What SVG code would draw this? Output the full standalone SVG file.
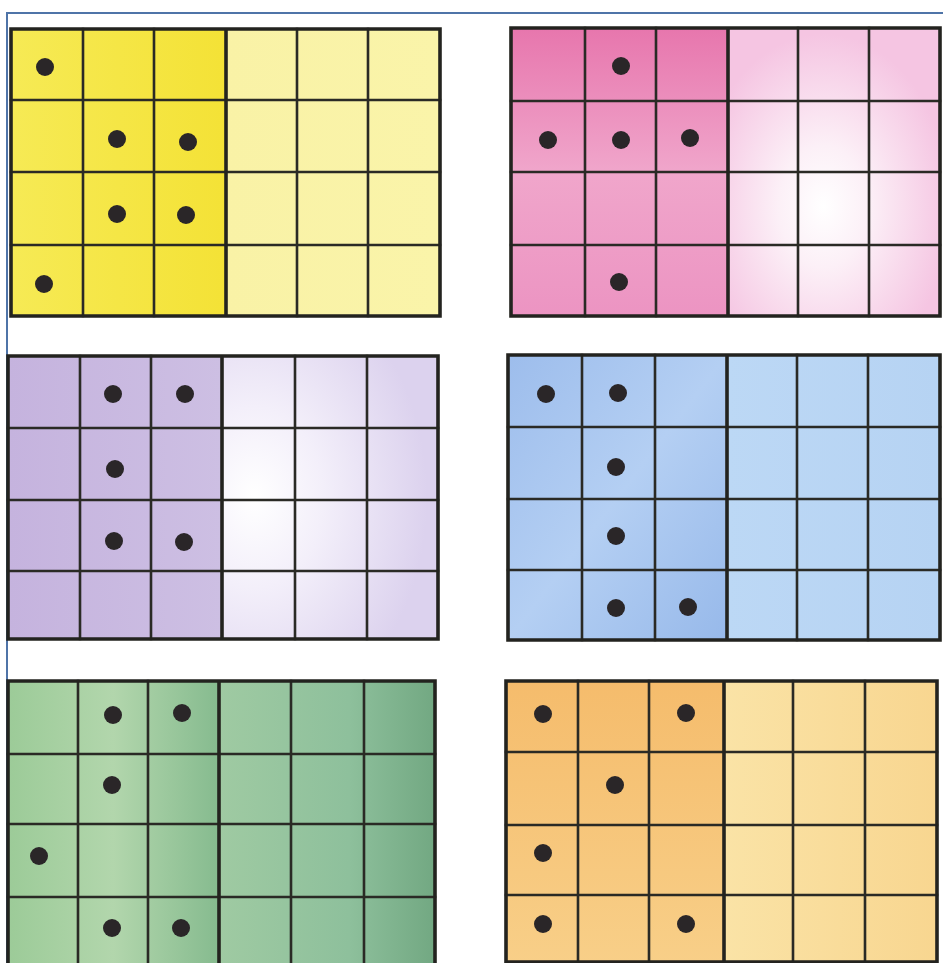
<svg xmlns="http://www.w3.org/2000/svg" width="943" height="963" viewBox="0 0 943 963">
<style>
.g{fill:none;stroke:#2a2a25;stroke-width:2.6;stroke-linecap:square}
.m{fill:none;stroke:#23231f;stroke-width:3.6}
.d{fill:#2a2628}
.frame{fill:none;stroke:#4f74a8;stroke-width:2}
</style>
<defs>
<linearGradient id="yl" x1="0" y1="0" x2="1" y2="0"><stop offset="0" stop-color="#f6ea55"/><stop offset="1" stop-color="#f4e236"/></linearGradient>
<linearGradient id="yr" x1="0" y1="0" x2="1" y2="0"><stop offset="0" stop-color="#f9f2a6"/><stop offset="1" stop-color="#faf4a9"/></linearGradient>
<linearGradient id="pl" x1="0" y1="0" x2="0" y2="1"><stop offset="0" stop-color="#e776ad"/><stop offset="0.5" stop-color="#f0a6cb"/><stop offset="1" stop-color="#ec94c2"/></linearGradient>
<radialGradient id="pr" cx="0.45" cy="0.62" r="0.6"><stop offset="0" stop-color="#ffffff"/><stop offset="0.35" stop-color="#fcf0f7"/><stop offset="1" stop-color="#f5c5e2"/></radialGradient>
<linearGradient id="ul" x1="0" y1="0" x2="1" y2="0"><stop offset="0" stop-color="#c5b3de"/><stop offset="1" stop-color="#cdbfe3"/></linearGradient>
<radialGradient id="ur" cx="0.15" cy="0.5" r="0.8"><stop offset="0" stop-color="#ffffff"/><stop offset="0.4" stop-color="#f3effa"/><stop offset="1" stop-color="#dcd2ee"/></radialGradient>
<linearGradient id="bl" x1="0" y1="0" x2="1" y2="1"><stop offset="0" stop-color="#9dbdec"/><stop offset="0.5" stop-color="#b4cff3"/><stop offset="1" stop-color="#97b9ea"/></linearGradient>
<linearGradient id="br" x1="0" y1="0" x2="1" y2="0"><stop offset="0" stop-color="#bcd8f5"/><stop offset="1" stop-color="#b6d3f3"/></linearGradient>
<linearGradient id="gl" x1="0" y1="0" x2="1" y2="0"><stop offset="0" stop-color="#9ccb98"/><stop offset="0.5" stop-color="#b2d6ac"/><stop offset="1" stop-color="#86bb8f"/></linearGradient>
<linearGradient id="gr" x1="0" y1="0" x2="1" y2="0"><stop offset="0" stop-color="#9fcaa2"/><stop offset="0.6" stop-color="#8ec09c"/><stop offset="1" stop-color="#72a882"/></linearGradient>
<linearGradient id="ol" x1="0" y1="0" x2="0" y2="1"><stop offset="0" stop-color="#f5bc6c"/><stop offset="1" stop-color="#f8cf88"/></linearGradient>
<linearGradient id="or" x1="0" y1="0" x2="1" y2="0"><stop offset="0" stop-color="#fae3a6"/><stop offset="1" stop-color="#f8d690"/></linearGradient>
</defs>
<rect width="943" height="963" fill="#ffffff"/>
<path class="frame" d="M7,963 V13 H943"/>

<g id="yellow">
<rect x="11" y="29" width="215" height="287" fill="url(#yl)"/>
<rect x="226" y="29" width="214" height="287" fill="url(#yr)"/>
<path class="g" d="M83,29V316M154,29V316M297,29V316M368,29V316M11,100H440M11,172H440M11,245H440"/>
<path class="m" d="M11,29H440V316H11ZM226,29V316"/>
<circle class="d" cx="45" cy="67" r="9"/><circle class="d" cx="117" cy="139" r="9"/><circle class="d" cx="188" cy="142" r="9"/><circle class="d" cx="117" cy="214" r="9"/><circle class="d" cx="186" cy="215" r="9"/><circle class="d" cx="44" cy="284" r="9"/>
</g>

<g id="pink">
<rect x="511" y="28" width="217" height="288" fill="url(#pl)"/>
<rect x="728" y="28" width="212" height="288" fill="url(#pr)"/>
<path class="g" d="M585,28V316M656,28V316M798,28V316M869,28V316M511,101H940M511,172H940M511,245H940"/>
<path class="m" d="M511,28H940V316H511ZM728,28V316"/>
<circle class="d" cx="621" cy="66" r="9"/><circle class="d" cx="548" cy="140" r="9"/><circle class="d" cx="621" cy="140" r="9"/><circle class="d" cx="690" cy="138" r="9"/><circle class="d" cx="619" cy="282" r="9"/>
</g>

<g id="purple">
<rect x="8" y="356" width="214" height="283" fill="url(#ul)"/>
<rect x="222" y="356" width="216" height="283" fill="url(#ur)"/>
<path class="g" d="M80,356V639M151,356V639M295,356V639M367,356V639M8,428H438M8,500H438M8,571H438"/>
<path class="m" d="M8,356H438V639H8ZM222,356V639"/>
<circle class="d" cx="113" cy="394" r="9"/><circle class="d" cx="185" cy="394" r="9"/><circle class="d" cx="115" cy="469" r="9"/><circle class="d" cx="114" cy="541" r="9"/><circle class="d" cx="184" cy="542" r="9"/>
</g>

<g id="blue">
<rect x="508" y="355" width="219" height="285" fill="url(#bl)"/>
<rect x="727" y="355" width="213" height="285" fill="url(#br)"/>
<path class="g" d="M582,355V640M655,355V640M797,355V640M868,355V640M508,427H940M508,499H940M508,570H940"/>
<path class="m" d="M508,355H940V640H508ZM727,355V640"/>
<circle class="d" cx="546" cy="394" r="9"/><circle class="d" cx="618" cy="393" r="9"/><circle class="d" cx="616" cy="467" r="9"/><circle class="d" cx="616" cy="536" r="9"/><circle class="d" cx="616" cy="608" r="9"/><circle class="d" cx="688" cy="607" r="9"/>
</g>

<g id="green">
<rect x="8" y="681" width="211" height="290" fill="url(#gl)"/>
<rect x="219" y="681" width="216" height="290" fill="url(#gr)"/>
<path class="g" d="M78,681V963M148,681V963M291,681V963M364,681V963M8,754H435M8,824H435M8,897H435"/>
<path class="m" d="M8,971V681H435V971M219,681V963"/>
<circle class="d" cx="113" cy="715" r="9"/><circle class="d" cx="182" cy="713" r="9"/><circle class="d" cx="112" cy="785" r="9"/><circle class="d" cx="39" cy="856" r="9"/><circle class="d" cx="112" cy="928" r="9"/><circle class="d" cx="181" cy="928" r="9"/>
</g>

<g id="orange">
<rect x="506" y="681" width="218" height="282" fill="url(#ol)"/>
<rect x="724" y="681" width="213" height="282" fill="url(#or)"/>
<path class="g" d="M578,681V963M649,681V963M793,681V963M865,681V963M506,752H937M506,825H937M506,895H937"/>
<path class="m" d="M506,963V681H937V963M724,681V963M506,962H937"/>
<circle class="d" cx="543" cy="714" r="9"/><circle class="d" cx="686" cy="713" r="9"/><circle class="d" cx="615" cy="785" r="9"/><circle class="d" cx="543" cy="853" r="9"/><circle class="d" cx="543" cy="924" r="9"/><circle class="d" cx="686" cy="924" r="9"/>
</g>
</svg>
